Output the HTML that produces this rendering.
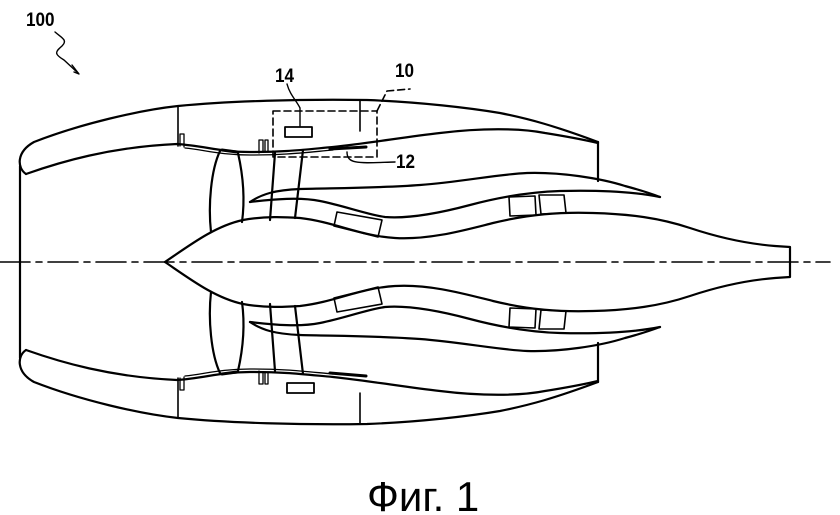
<!DOCTYPE html>
<html><head><meta charset="utf-8"><style>
html,body{margin:0;padding:0;background:#fff;}
svg{display:block;}
</style></head><body>
<svg width="840" height="515" viewBox="0 0 840 515" xmlns="http://www.w3.org/2000/svg">
<g fill="none" stroke="#000" stroke-width="2.2" stroke-linejoin="round" stroke-linecap="round">
<line x1="0" y1="262" x2="830" y2="262" stroke-width="1.6" stroke-dasharray="30,6,6,6"/>
<line x1="20" y1="166" x2="20" y2="358"/>
<g id="half">
  <path d="M26,174 C17,168 16,152 34,142 C80,124 140,110 178,106 C230,101 300,99 367,100 C420,102 470,108 500,113 C530,119 555,126 598,142"/>
  <path d="M26,174 C60,162 110,147 177,144 C205,146 220,152 250,152 C285,152 300,150 333,147 C370,143 405,137 440,133 C480,128 520,128 545,133 C570,137 585,140 598,143"/>
  <path d="M185,148 C205,150 220,155 250,155 C285,155 300,153 333,150" stroke-width="1.3"/>
  <line x1="598" y1="142" x2="598" y2="181"/>
  <line x1="178" y1="106" x2="178" y2="146" stroke-width="1.6"/>
  <line x1="360" y1="101" x2="360" y2="131" stroke-width="1.6"/>
  <path d="M180,146 V134 H184 V147" stroke-width="1.3"/>
  <path d="M259,153 V140 H263 V152 M265,152 V140 H268 V152" stroke-width="1.3"/>
  <path d="M220,151 C211,170 208,205 211,232"/>
  <path d="M238,153 C243,175 245,200 242,222"/>
  <path d="M222,150 L237,152" stroke-width="3"/>
  <line x1="275" y1="153" x2="270" y2="220"/>
  <line x1="303" y1="150" x2="295" y2="218"/>
  <path d="M165,262 C190,245 215,226 243,220 C265,216 285,217 300,218 C335,222 360,236 395,238 C430,240 465,230 493,223 C530,214 560,212 593,213 C630,214 660,218 690,228 C720,238 750,244 775,246 L790,247 L790,262"/>
  <path d="M250,202 C275,199 300,197 320,201 C345,206 365,214 385,217 C410,219 440,213 470,205 C500,197 530,192 560,191 C600,190 635,192 660,197"/>
  <path d="M250,202 C262,194 275,190 300,189 C340,188 380,188 420,185 C460,182 500,174 527,173 C560,172 600,178 625,186 C640,190 652,194 660,197"/>
  <path d="M337,212 L382,220 L378,237 L334,226 Z" stroke-width="1.6"/>
  <path d="M509,197 L535,196 L536,215 L510,216 Z" stroke-width="1.6"/>
  <path d="M539,195 L564,195 L566,213 L541,214 Z" stroke-width="1.6"/>
</g>
<use href="#half" transform="translate(0,524) scale(1,-1)"/>
<rect x="285" y="127" width="27" height="10" stroke-width="1.8"/>
<rect x="287" y="383" width="27" height="10" stroke-width="1.8"/>
<path d="M330,149 L366,147" stroke-width="3"/>
<path d="M330,373 L366,376" stroke-width="3"/>
<rect x="273" y="111" width="104" height="46" stroke-width="1.6" stroke-dasharray="7,4"/>
<path d="M377,111 L387,91 L410,89" stroke-width="1.6" stroke-dasharray="7,4"/>
<path d="M287,84 C290,95 296,100 300,108 L300,126" stroke-width="1.4"/>
<path d="M347,152 C347,165 360,163 395,162" stroke-width="1.4"/>
<path d="M55,32 C62,38 68,40 62,46 C55,52 54,54 64,60 L78,73" stroke-width="1.4"/>
<path d="M72,65 L79,74 L74,72" stroke-width="1.4"/>
</g>
<g font-family="Liberation Sans, sans-serif" font-weight="bold" font-size="19" fill="#000">
<text x="26" y="26" transform="translate(26,0) scale(0.9,1) translate(-26,0)">100</text>
<text x="275" y="82" transform="translate(275,0) scale(0.9,1) translate(-275,0)">14</text>
<text x="395" y="77" transform="translate(395,0) scale(0.9,1) translate(-395,0)">10</text>
<text x="396" y="168" transform="translate(396,0) scale(0.9,1) translate(-396,0)">12</text>
</g>
<text x="367" y="511" font-family="Liberation Sans, sans-serif" font-size="42" fill="#000">Фиг. 1</text>
</svg>
</body></html>
